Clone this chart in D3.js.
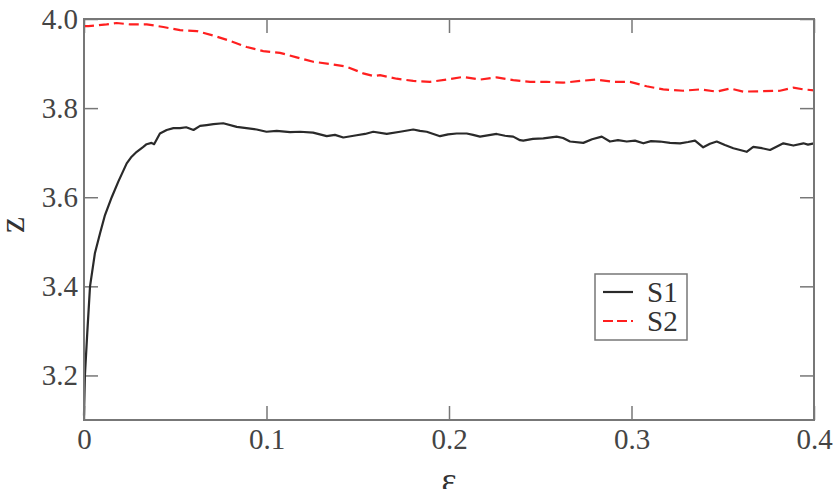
<!DOCTYPE html>
<html>
<head>
<meta charset="utf-8">
<script src="https://d3js.org/d3.v7.min.js"></script>
<style>
  body { margin: 0; background: #fff; }
</style>
</head>
<body>
<svg width="837" height="489"></svg>
<script>
// values
var xTicks = [0, 0.1, 0.2, 0.3, 0.4];
var yTicks = [3.2, 3.4, 3.6, 3.8, 4.0];

var s1Eps = [0, 0.0005, 0.0018, 0.0033, 0.006, 0.0088, 0.0115, 0.0152, 0.0188, 0.0234, 0.0261, 0.0289, 0.0325, 0.0343, 0.037, 0.0384, 0.0416, 0.0453, 0.049, 0.0526, 0.056, 0.060, 0.0636, 0.0672, 0.0709, 0.0763, 0.0837, 0.089, 0.0946, 0.1, 0.1056, 0.1129, 0.1184, 0.1255, 0.133, 0.1375, 0.1421, 0.1494, 0.154, 0.1585, 0.1659, 0.1732, 0.1804, 0.1841, 0.1878, 0.1951, 0.1995, 0.2042, 0.2097, 0.2132, 0.217, 0.2261, 0.2307, 0.2352, 0.2389, 0.2407, 0.246, 0.2517, 0.259, 0.2625, 0.2663, 0.2736, 0.2784, 0.2837, 0.2882, 0.2926, 0.2974, 0.3019, 0.3065, 0.3107, 0.3156, 0.3211, 0.3266, 0.331, 0.3348, 0.3393, 0.343, 0.3467, 0.3512, 0.3558, 0.3595, 0.3631, 0.3667, 0.3715, 0.3759, 0.3797, 0.3832, 0.3887, 0.3942, 0.3967, 0.4];
var s1Z = [3.11, 3.2, 3.296, 3.40, 3.475, 3.519, 3.560, 3.60, 3.635, 3.676, 3.691, 3.702, 3.713, 3.719, 3.722, 3.719, 3.743, 3.751, 3.755, 3.755, 3.757, 3.751, 3.760, 3.762, 3.764, 3.766, 3.758, 3.755, 3.752, 3.747, 3.749, 3.746, 3.747, 3.745, 3.737, 3.740, 3.734, 3.739, 3.742, 3.747, 3.742, 3.747, 3.752, 3.749, 3.747, 3.737, 3.741, 3.743, 3.743, 3.740, 3.736, 3.742, 3.738, 3.736, 3.728, 3.727, 3.731, 3.732, 3.736, 3.733, 3.725, 3.722, 3.730, 3.736, 3.725, 3.728, 3.725, 3.727, 3.721, 3.726, 3.725, 3.722, 3.721, 3.724, 3.727, 3.712, 3.720, 3.725, 3.717, 3.710, 3.706, 3.702, 3.713, 3.710, 3.706, 3.714, 3.721, 3.716, 3.721, 3.718, 3.721];

var s2Eps = [0, 0.0024, 0.0124, 0.0179, 0.0252, 0.0344, 0.0435, 0.0526, 0.0618, 0.0708, 0.08, 0.0892, 0.0982, 0.1074, 0.1165, 0.1256, 0.1348, 0.1439, 0.153, 0.1585, 0.1622, 0.1713, 0.1804, 0.1896, 0.1987, 0.2078, 0.217, 0.2261, 0.2352, 0.2444, 0.2535, 0.2626, 0.2718, 0.2809, 0.29, 0.2992, 0.3083, 0.3174, 0.3284, 0.3375, 0.3467, 0.354, 0.3613, 0.3723, 0.3814, 0.3887, 0.3942, 0.4];
var s2Z = [3.984, 3.984, 3.988, 3.991, 3.988, 3.988, 3.982, 3.975, 3.973, 3.963, 3.951, 3.937, 3.928, 3.924, 3.914, 3.904, 3.899, 3.893, 3.878, 3.872, 3.874, 3.866, 3.861, 3.859, 3.864, 3.870, 3.864, 3.869, 3.863, 3.859, 3.859, 3.857, 3.861, 3.864, 3.859, 3.859, 3.849, 3.842, 3.839, 3.842, 3.837, 3.844, 3.837, 3.838, 3.839, 3.846, 3.842, 3.840];

var serif = "'Liberation Serif', 'Times New Roman', Times, serif";

var svg = d3.select("svg"),
    margin = {top: 19, right: 23, bottom: 69, left: 84},
    width = +svg.attr("width") - margin.left - margin.right,
    height = +svg.attr("height") - margin.top - margin.bottom,
    g = svg.append("g").attr("transform", "translate(" + margin.left + "," + margin.top + ")");

var x = d3.scaleLinear().domain([0, 0.4]).range([0, width]),
    y = d3.scaleLinear().domain([3.1, 4.0]).range([height, 0]);

var fmt = function(d) { return d === 0 ? "0" : d3.format(".1f")(d); };

// axes, ticks pointing inwards on all four sides
g.append("g")
    .attr("transform", "translate(0," + height + ")")
    .call(d3.axisBottom(x).tickValues(xTicks).tickSize(-14).tickPadding(8).tickFormat(fmt));
g.append("g")
    .call(d3.axisLeft(y).tickValues(yTicks).tickSize(-14).tickPadding(6).tickFormat(d3.format(".1f")));
g.append("g")
    .call(d3.axisTop(x).tickValues(xTicks).tickSize(-14).tickFormat(""));
g.append("g")
    .attr("transform", "translate(" + width + ",0)")
    .call(d3.axisRight(y).tickValues(yTicks).tickSize(-14).tickFormat(""));

g.selectAll(".domain").remove();
g.selectAll(".tick line").attr("stroke", "#777").attr("stroke-width", 1.5);
g.selectAll(".tick text")
    .style("font-family", serif)
    .style("font-size", "29px")
    .attr("fill", "#444");

var line = d3.line()
    .x(function(d) { return x(d[0]); })
    .y(function(d) { return y(d[1]); });

var s1 = s1Eps.map(function(e, i) { return [e, s1Z[i]]; });
var s2 = s2Eps.map(function(e, i) { return [e, s2Z[i]]; });

g.append("path")
    .datum(s2)
    .attr("fill", "none")
    .attr("stroke", "#ff1f1f")
    .attr("stroke-width", 2.2)
    .attr("stroke-dasharray", "10,5")
    .attr("d", line);

g.append("path")
    .datum(s1)
    .attr("fill", "none")
    .attr("stroke", "#2a2a2a")
    .attr("stroke-width", 2.2)
    .attr("stroke-linejoin", "round")
    .attr("d", line);

// frame
g.append("rect")
    .attr("width", width)
    .attr("height", height)
    .attr("fill", "none")
    .attr("stroke", "#777")
    .attr("stroke-width", 2);

// axis labels
svg.append("text")
    .attr("transform", "translate(24,225) rotate(-90)")
    .attr("text-anchor", "middle")
    .style("font-family", serif)
    .style("font-size", "36px")
    .attr("fill", "#333")
    .text("z");

svg.append("text")
    .attr("x", margin.left + width / 2)
    .attr("y", 492)
    .attr("text-anchor", "middle")
    .style("font-family", serif)
    .style("font-size", "36px")
    .attr("fill", "#333")
    .text("ε");

// legend
var legend = svg.append("g").attr("transform", "translate(595,274)");
legend.append("rect")
    .attr("width", 92).attr("height", 66)
    .attr("fill", "#fff").attr("stroke", "#777").attr("stroke-width", 1.5);

var items = [{name: "S1", color: "#2a2a2a", dash: null}, {name: "S2", color: "#ff1f1f", dash: "10,4"}];
items.forEach(function(d, i) {
  var yy = 18 + i * 29;
  legend.append("line")
      .attr("x1", 8).attr("x2", 38).attr("y1", yy).attr("y2", yy)
      .attr("stroke", d.color).attr("stroke-width", 2.2)
      .attr("stroke-dasharray", d.dash);
  legend.append("text")
      .attr("x", 52).attr("y", yy + 10)
      .style("font-family", serif)
      .style("font-size", "29px")
      .attr("fill", "#333")
      .text(d.name);
});
</script>
</body>
</html>
